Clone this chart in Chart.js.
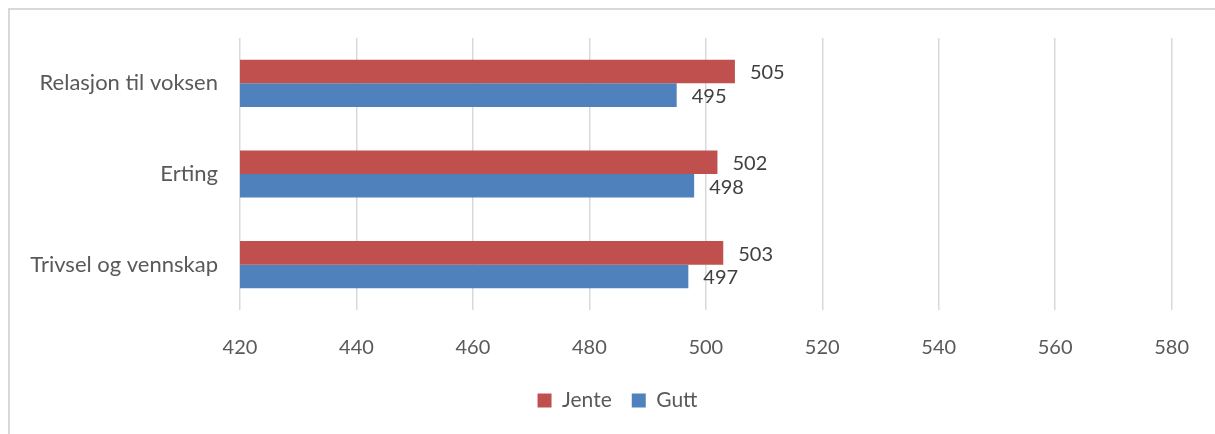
<!DOCTYPE html>
<html>
<head>
<meta charset="utf-8">
<script src="https://cdn.jsdelivr.net/npm/chart.js@4"></script>
<style>
  html, body { margin: 0; padding: 0; background: #fff; overflow: hidden; }
  #frame {
    position: absolute; left: 8px; top: 8px; width: 1300px; height: 600px;
    border-left: 2px solid #d9d9d9; border-top: 2px solid #d9d9d9;
  }
  #wrap { position: absolute; left: 0; top: 0; width: 1215px; height: 434px; }
</style>
</head>
<body>
<div id="frame"></div>
<div id="wrap"><canvas id="chart"></canvas></div>
<script>
// Data for the chart
const categories = ["Relasjon til voksen", "Erting", "Trivsel og vennskap"];
const jente = [505, 502, 503];
const gutt = [495, 498, 497];
const xMin = 420;
const xMax = 580;

const fontFamily = "Lato, 'Open Sans', sans-serif";

// Draws the value to the right of every bar
const valueLabels = {
  id: "valueLabels",
  afterDatasetsDraw(chart) {
    const ctx = chart.ctx;
    ctx.save();
    ctx.font = "20px " + fontFamily;
    ctx.fillStyle = "#404040";
    ctx.textAlign = "left";
    ctx.textBaseline = "middle";
    chart.data.datasets.forEach((ds, i) => {
      chart.getDatasetMeta(i).data.forEach((bar, j) => {
        ctx.fillText(ds.data[j], bar.x + 15, bar.y + 1.5);
      });
    });
    ctx.restore();
  },
};

// nudge the legend a bit to the right, it sits under the middle of the frame
const legendShift = {
  id: "legendShift",
  afterLayout(chart) {
    chart.legend.left += 26;
    chart.legend.right += 26;
  },
};

const chart = new Chart(document.getElementById("chart"), {
  type: "bar",
  data: {
    labels: categories,
    datasets: [
      {
        label: "Jente",
        data: jente,
        backgroundColor: "#c0504d",
        categoryPercentage: 0.52,
        barPercentage: 1.0,
      },
      {
        label: "Gutt",
        data: gutt,
        backgroundColor: "#4f81bd",
        categoryPercentage: 0.52,
        barPercentage: 1.0,
      },
    ],
  },
  options: {
    indexAxis: "y",
    responsive: true,
    maintainAspectRatio: false,
    animation: false,
    layout: {
      padding: { top: 38, right: 42, bottom: 13, left: 10 },
    },
    plugins: {
      legend: {
        position: "bottom",
        labels: {
          boxWidth: 14,
          boxHeight: 14,
          padding: 20,
          color: "#595959",
          font: { family: fontFamily, size: 21 },
        },
      },
      tooltip: { enabled: false },
    },
    scales: {
      x: {
        min: xMin,
        max: xMax,
        ticks: {
          stepSize: 20,
          padding: 26,
          color: "#595959",
          font: { family: fontFamily, size: 20 },
        },
        grid: { color: "#d9d9d9", lineWidth: 1.5, drawTicks: false },
        border: { display: false },
        afterFit(scale) { scale.height = 60; },
      },
      y: {
        ticks: {
          padding: 14,
          color: "#595959",
          font: { family: fontFamily, size: 22 },
        },
        grid: { display: false },
        border: { display: false },
        afterFit(scale) { scale.width = 230; },
      },
    },
  },
  plugins: [valueLabels, legendShift],
});
</script>
</body>
</html>
